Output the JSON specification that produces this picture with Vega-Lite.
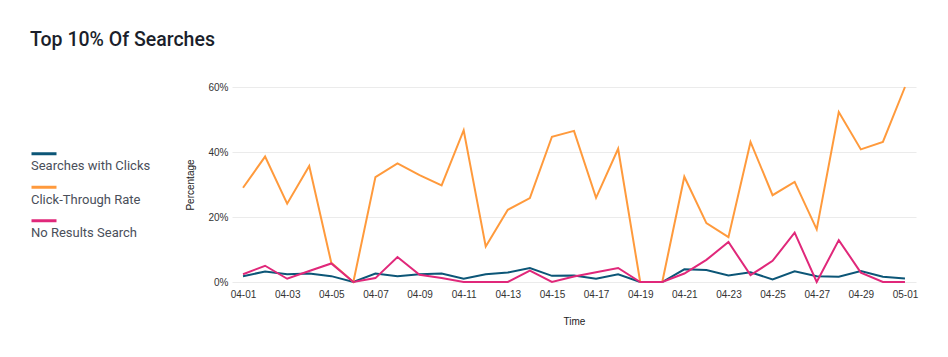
{
  "$schema": "https://vega.github.io/schema/vega-lite/v6.json",
  "width": 684,
  "height": 195,
  "padding": {"left": 30, "top": 29, "right": 30, "bottom": 20},
  "background": "white",
  "title": {
    "text": "Top 10% Of Searches",
    "anchor": "start",
    "frame": "bounds",
    "font": "Roboto",
    "fontSize": 19.5,
    "fontWeight": 500,
    "color": "#1b1f2b",
    "offset": 32
  },
  "datasets": {
    "rows": [
      {"date": "04-01", "series": "Searches with Clicks", "value": 0.018},
      {"date": "04-02", "series": "Searches with Clicks", "value": 0.032},
      {"date": "04-03", "series": "Searches with Clicks", "value": 0.024},
      {"date": "04-04", "series": "Searches with Clicks", "value": 0.026},
      {"date": "04-05", "series": "Searches with Clicks", "value": 0.018},
      {"date": "04-06", "series": "Searches with Clicks", "value": 0.0},
      {"date": "04-07", "series": "Searches with Clicks", "value": 0.026},
      {"date": "04-08", "series": "Searches with Clicks", "value": 0.018},
      {"date": "04-09", "series": "Searches with Clicks", "value": 0.024},
      {"date": "04-10", "series": "Searches with Clicks", "value": 0.026},
      {"date": "04-11", "series": "Searches with Clicks", "value": 0.010},
      {"date": "04-12", "series": "Searches with Clicks", "value": 0.024},
      {"date": "04-13", "series": "Searches with Clicks", "value": 0.029},
      {"date": "04-14", "series": "Searches with Clicks", "value": 0.043},
      {"date": "04-15", "series": "Searches with Clicks", "value": 0.019},
      {"date": "04-16", "series": "Searches with Clicks", "value": 0.020},
      {"date": "04-17", "series": "Searches with Clicks", "value": 0.010},
      {"date": "04-18", "series": "Searches with Clicks", "value": 0.024},
      {"date": "04-19", "series": "Searches with Clicks", "value": 0.0},
      {"date": "04-20", "series": "Searches with Clicks", "value": 0.0},
      {"date": "04-21", "series": "Searches with Clicks", "value": 0.039},
      {"date": "04-22", "series": "Searches with Clicks", "value": 0.037},
      {"date": "04-23", "series": "Searches with Clicks", "value": 0.020},
      {"date": "04-24", "series": "Searches with Clicks", "value": 0.030},
      {"date": "04-25", "series": "Searches with Clicks", "value": 0.008},
      {"date": "04-26", "series": "Searches with Clicks", "value": 0.033},
      {"date": "04-27", "series": "Searches with Clicks", "value": 0.018},
      {"date": "04-28", "series": "Searches with Clicks", "value": 0.016},
      {"date": "04-29", "series": "Searches with Clicks", "value": 0.034},
      {"date": "04-30", "series": "Searches with Clicks", "value": 0.016},
      {"date": "05-01", "series": "Searches with Clicks", "value": 0.011},
      {"date": "04-01", "series": "Click-Through Rate", "value": 0.290},
      {"date": "04-02", "series": "Click-Through Rate", "value": 0.386},
      {"date": "04-03", "series": "Click-Through Rate", "value": 0.241},
      {"date": "04-04", "series": "Click-Through Rate", "value": 0.357},
      {"date": "04-05", "series": "Click-Through Rate", "value": 0.059},
      {"date": "04-06", "series": "Click-Through Rate", "value": 0.0},
      {"date": "04-07", "series": "Click-Through Rate", "value": 0.323},
      {"date": "04-08", "series": "Click-Through Rate", "value": 0.365},
      {"date": "04-09", "series": "Click-Through Rate", "value": 0.329},
      {"date": "04-10", "series": "Click-Through Rate", "value": 0.297},
      {"date": "04-11", "series": "Click-Through Rate", "value": 0.467},
      {"date": "04-12", "series": "Click-Through Rate", "value": 0.109},
      {"date": "04-13", "series": "Click-Through Rate", "value": 0.222},
      {"date": "04-14", "series": "Click-Through Rate", "value": 0.258},
      {"date": "04-15", "series": "Click-Through Rate", "value": 0.447},
      {"date": "04-16", "series": "Click-Through Rate", "value": 0.465},
      {"date": "04-17", "series": "Click-Through Rate", "value": 0.259},
      {"date": "04-18", "series": "Click-Through Rate", "value": 0.410},
      {"date": "04-19", "series": "Click-Through Rate", "value": 0.0},
      {"date": "04-20", "series": "Click-Through Rate", "value": 0.0},
      {"date": "04-21", "series": "Click-Through Rate", "value": 0.324},
      {"date": "04-22", "series": "Click-Through Rate", "value": 0.181},
      {"date": "04-23", "series": "Click-Through Rate", "value": 0.138},
      {"date": "04-24", "series": "Click-Through Rate", "value": 0.431},
      {"date": "04-25", "series": "Click-Through Rate", "value": 0.267},
      {"date": "04-26", "series": "Click-Through Rate", "value": 0.308},
      {"date": "04-27", "series": "Click-Through Rate", "value": 0.162},
      {"date": "04-28", "series": "Click-Through Rate", "value": 0.523},
      {"date": "04-29", "series": "Click-Through Rate", "value": 0.408},
      {"date": "04-30", "series": "Click-Through Rate", "value": 0.431},
      {"date": "05-01", "series": "Click-Through Rate", "value": 0.600},
      {"date": "04-01", "series": "No Results Search", "value": 0.024},
      {"date": "04-02", "series": "No Results Search", "value": 0.050},
      {"date": "04-03", "series": "No Results Search", "value": 0.010},
      {"date": "04-04", "series": "No Results Search", "value": 0.034},
      {"date": "04-05", "series": "No Results Search", "value": 0.057},
      {"date": "04-06", "series": "No Results Search", "value": 0.0},
      {"date": "04-07", "series": "No Results Search", "value": 0.012},
      {"date": "04-08", "series": "No Results Search", "value": 0.077},
      {"date": "04-09", "series": "No Results Search", "value": 0.022},
      {"date": "04-10", "series": "No Results Search", "value": 0.012},
      {"date": "04-11", "series": "No Results Search", "value": 0.0},
      {"date": "04-12", "series": "No Results Search", "value": 0.0},
      {"date": "04-13", "series": "No Results Search", "value": 0.0},
      {"date": "04-14", "series": "No Results Search", "value": 0.035},
      {"date": "04-15", "series": "No Results Search", "value": 0.0},
      {"date": "04-16", "series": "No Results Search", "value": 0.017},
      {"date": "04-17", "series": "No Results Search", "value": 0.030},
      {"date": "04-18", "series": "No Results Search", "value": 0.043},
      {"date": "04-19", "series": "No Results Search", "value": 0.0},
      {"date": "04-20", "series": "No Results Search", "value": 0.0},
      {"date": "04-21", "series": "No Results Search", "value": 0.026},
      {"date": "04-22", "series": "No Results Search", "value": 0.068},
      {"date": "04-23", "series": "No Results Search", "value": 0.123},
      {"date": "04-24", "series": "No Results Search", "value": 0.021},
      {"date": "04-25", "series": "No Results Search", "value": 0.065},
      {"date": "04-26", "series": "No Results Search", "value": 0.152},
      {"date": "04-27", "series": "No Results Search", "value": 0.0},
      {"date": "04-28", "series": "No Results Search", "value": 0.129},
      {"date": "04-29", "series": "No Results Search", "value": 0.029},
      {"date": "04-30", "series": "No Results Search", "value": 0.0},
      {"date": "05-01", "series": "No Results Search", "value": 0.0}
    ]
  },
  "data": {"name": "rows"},
  "mark": {"type": "line", "strokeWidth": 2},
  "encoding": {
    "x": {
      "field": "date",
      "type": "ordinal",
      "scale": {"type": "point", "padding": 0.5},
      "axis": {
        "title": "Time",
        "values": ["04-01","04-03","04-05","04-07","04-09","04-11","04-13","04-15","04-17","04-19","04-21","04-23","04-25","04-27","04-29","05-01"],
        "labelAngle": 0,
        "ticks": false,
        "domain": false,
        "grid": false,
        "labelPadding": 7,
        "titlePadding": 17
      }
    },
    "y": {
      "field": "value",
      "type": "quantitative",
      "scale": {"domain": [0, 0.6], "nice": false},
      "axis": {
        "title": "Percentage",
        "values": [0, 0.2, 0.4, 0.6],
        "format": ".0%",
        "ticks": false,
        "domain": false,
        "grid": true,
        "labelPadding": 4,
        "titlePadding": 12
      }
    },
    "color": {
      "field": "series",
      "type": "nominal",
      "sort": ["Searches with Clicks", "Click-Through Rate", "No Results Search"],
      "scale": {
        "domain": ["Searches with Clicks", "Click-Through Rate", "No Results Search"],
        "range": ["#0c5677", "#ff9a3c", "#e0287a"]
      },
      "legend": {
        "title": null,
        "orient": "none",
        "legendX": -202,
        "legendY": 59,
        "symbolType": "M-1,-0.5H1",
        "symbolStrokeWidth": 3,
        "symbolSize": 625,
        "labelOffset": -27,
        "labelBaseline": "top",
        "labelFont": "Roboto",
        "labelFontSize": 13,
        "labelColor": "#4a4f5a",
        "rowPadding": 6.5,
        "labelLimit": 200
      }
    }
  },
  "config": {
    "view": {"stroke": null},
    "axis": {
      "labelFont": "Liberation Sans",
      "labelFontSize": 10,
      "labelColor": "#333333",
      "titleFont": "Liberation Sans",
      "titleFontSize": 10,
      "titleFontWeight": "normal",
      "titleColor": "#222222",
      "gridColor": "#ebebeb"
    }
  }
}
